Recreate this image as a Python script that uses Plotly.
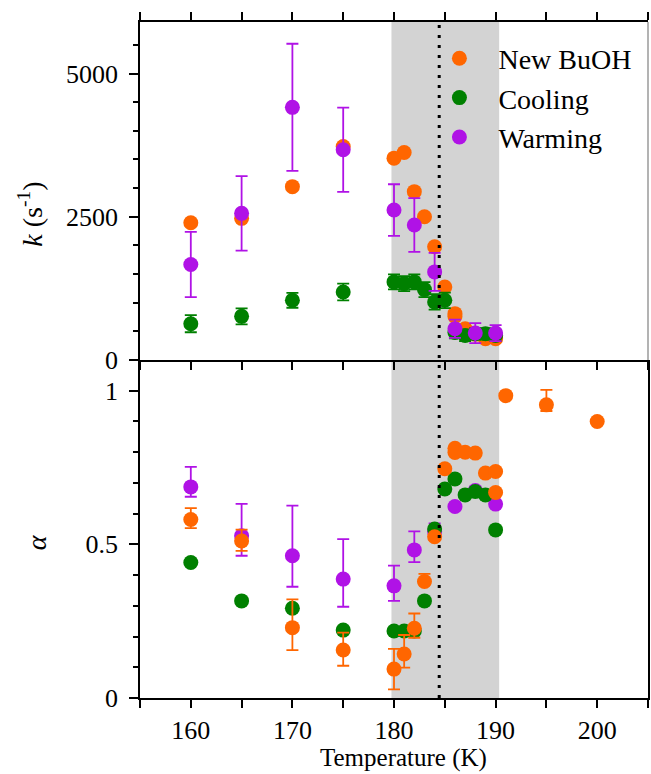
import plotly.graph_objects as go

# ---------------- data ----------------
# New BuOH (orange)
buoh_T = [160, 165, 170, 175, 180, 181, 182, 183, 184, 185, 186, 186, 187, 188, 189, 190, 190, 191, 195, 200]
buoh_k = [2396, 2473, 3026, 3727, 3523, 3622, 2939, 2501, 1976, 1275, 809, 760, 546, 450, 371, 400, 371, None, None, None]
buoh_a = [0.581, 0.511, 0.229, 0.156, 0.094, 0.143, 0.227, 0.379, 0.525, 0.746, 0.813, 0.799, 0.800, 0.797, 0.732, 0.737, 0.669, 0.984, 0.954, 0.900]
buoh_a_errp = [0.037, 0.037, 0.092, 0.057, 0.066, 0.062, 0.048, 0.025, 0, 0, 0, 0, 0, 0, 0, 0, 0, 0, 0.049, 0]
buoh_a_errm = [0.028, 0.032, 0.073, 0.051, 0.066, 0.044, 0.031, 0.01, 0, 0, 0, 0, 0, 0, 0, 0, 0, 0, 0.02, 0]

# Cooling (green)
cool_T = [160, 165, 170, 175, 180, 181, 182, 183, 184, 185, 186, 187, 188, 189, 190]
cool_k = [634, 762, 1042, 1188, 1363, 1334, 1363, 1229, 1013, 1042, 480, 429, 458, 458, 429]
cool_k_err = [150, 140, 130, 146, 130, 130, 130, 130, 135, 135, 100, 100, 100, 100, 100]
cool_a = [0.441, 0.316, 0.292, 0.221, 0.218, 0.218, 0.218, 0.316, 0.550, 0.680, 0.713, 0.661, 0.672, 0.661, 0.547]

# Warming (purple)
warm_T = [160, 165, 170, 175, 180, 182, 184, 186, 188, 190]
warm_k = [1667, 2560, 4410, 3669, 2618, 2356, 1538, 546, 470, 470]
warm_k_err = [570, 650, 1110, 735, 450, 470, 333, 160, 175, 140]
warm_a = [0.687, 0.528, 0.463, 0.387, 0.365, 0.482, 0.541, 0.623, 0.675, 0.631]
warm_a_errp = [0.065, 0.104, 0.163, 0.130, 0.066, 0.060, 0.027, 0, 0, 0]
warm_a_errm = [0.032, 0.065, 0.101, 0.090, 0.049, 0.040, 0.027, 0, 0, 0]

x_range = [155, 205]
shade_range = [179.75, 190.35]
transition_T = 184.45

ORANGE = "#FF6600"
GREEN = "#008000"
PURPLE = "#B012E6"
FONT = "Liberation Serif"
MS = 15

fig = go.Figure()

# upper panel (k): orange, green, purple
fig.add_trace(go.Scatter(x=buoh_T, y=buoh_k, mode="markers", name="New BuOH",
                         legendgroup="b", xaxis="x2", yaxis="y2",
                         marker=dict(color=ORANGE, size=MS, line=dict(width=0))))
fig.add_trace(go.Scatter(x=cool_T, y=cool_k, mode="markers", name="Cooling",
                         legendgroup="c", xaxis="x2", yaxis="y2",
                         error_y=dict(type="data", array=cool_k_err, color=GREEN, thickness=1.8, width=6),
                         marker=dict(color=GREEN, size=MS, line=dict(width=0))))
fig.add_trace(go.Scatter(x=warm_T, y=warm_k, mode="markers", name="Warming",
                         legendgroup="w", xaxis="x2", yaxis="y2",
                         error_y=dict(type="data", array=warm_k_err, color=PURPLE, thickness=1.8, width=6),
                         marker=dict(color=PURPLE, size=MS, line=dict(width=0))))

# lower panel (alpha): purple, green, orange
fig.add_trace(go.Scatter(x=warm_T, y=warm_a, mode="markers", name="Warming", showlegend=False,
                         legendgroup="w", xaxis="x", yaxis="y",
                         error_y=dict(type="data", array=warm_a_errp, arrayminus=warm_a_errm,
                                      color=PURPLE, thickness=1.8, width=6),
                         marker=dict(color=PURPLE, size=MS, line=dict(width=0))))
fig.add_trace(go.Scatter(x=cool_T, y=cool_a, mode="markers", name="Cooling", showlegend=False,
                         legendgroup="c", xaxis="x", yaxis="y",
                         marker=dict(color=GREEN, size=MS, line=dict(width=0))))
fig.add_trace(go.Scatter(x=buoh_T, y=buoh_a, mode="markers", name="New BuOH", showlegend=False,
                         legendgroup="b", xaxis="x", yaxis="y",
                         error_y=dict(type="data", array=buoh_a_errp, arrayminus=buoh_a_errm,
                                      color=ORANGE, thickness=1.8, width=6),
                         marker=dict(color=ORANGE, size=MS, line=dict(width=0))))

tickfont = dict(family=FONT, size=26, color="black")
common_x = dict(range=x_range, tickmode="linear", tick0=160, dtick=10,
                ticks="outside", ticklen=8, tickwidth=1.5, tickcolor="black",
                minor=dict(tick0=155, dtick=5, ticks="outside", ticklen=8, tickwidth=1.5, tickcolor="black"),
                showline=True, linecolor="black", linewidth=1.5,
                showgrid=False, zeroline=False, tickfont=tickfont)

fig.update_layout(
    width=651, height=774,
    margin=dict(l=140, r=1, t=22, b=76),
    paper_bgcolor="white", plot_bgcolor="white",
    xaxis=dict(domain=[0, 1], anchor="y", mirror=False, **common_x),
    xaxis2=dict(domain=[0, 1], anchor="y2", matches="x", showticklabels=False, mirror="allticks", **common_x),
    yaxis=dict(domain=[0, 0.5], anchor="x", range=[0, 1.1], tickmode="linear", tick0=0, dtick=0.5,
               ticks="outside", ticklen=9, tickwidth=1.5, tickcolor="black",
               minor=dict(tick0=0, dtick=0.1, ticks="outside", ticklen=5, tickwidth=1.5, tickcolor="black"),
               showline=True, linecolor="black", linewidth=1.5, mirror=True,
               showgrid=False, zeroline=False, tickfont=tickfont, ticklabelstandoff=6),
    yaxis2=dict(domain=[0.5, 1], anchor="x2", range=[0, 5900], tickmode="linear", tick0=0, dtick=2500,
                ticks="outside", ticklen=9, tickwidth=1.5, tickcolor="black",
                minor=dict(tick0=0, dtick=500, ticks="outside", ticklen=5, tickwidth=1.5, tickcolor="black"),
                showline=True, linecolor="black", linewidth=1.5, mirror=False,
                showgrid=False, zeroline=False, tickfont=tickfont, ticklabelstandoff=6),
    legend=dict(x=0.552, y=0.983, xanchor="left", yanchor="top", bgcolor="rgba(0,0,0,0)",
                font=dict(family=FONT, size=28, color="black"), itemwidth=68,
                tracegroupgap=0),
    showlegend=True,
    shapes=[
        dict(type="rect", xref="x", yref="paper", x0=shade_range[0], x1=shade_range[1], y0=0, y1=1,
             fillcolor="#D3D3D3", line=dict(width=0), layer="below"),
        dict(type="line", xref="x", yref="paper", x0=transition_T, x1=transition_T, y0=0, y1=1,
             line=dict(color="black", width=3, dash="3px,7px"), layer="above"),
        dict(type="line", xref="paper", yref="paper", x0=1, x1=1, y0=0.5, y1=1,
             line=dict(color="#9A9A9A", width=1.5), layer="above"),
    ],
    annotations=[
        dict(text="<i>k</i> (s<sup>-1</sup>)", xref="paper", yref="paper", x=-0.2157, y=0.7156,
             textangle=-90, showarrow=False, font=dict(family=FONT, size=28, color="black"),
             xanchor="center", yanchor="middle"),
        dict(text="<i>α</i>", xref="paper", yref="paper", x=-0.204, y=0.231,
             textangle=-90, showarrow=False, font=dict(family=FONT, size=28, color="black"),
             xanchor="center", yanchor="middle"),
        dict(text="Temperature (K)", xref="paper", yref="paper", x=0.518, y=-0.1124,
             showarrow=False, font=dict(family=FONT, size=25, color="black"),
             xanchor="center", yanchor="bottom"),
    ],
)

fig.write_html("out.html")
